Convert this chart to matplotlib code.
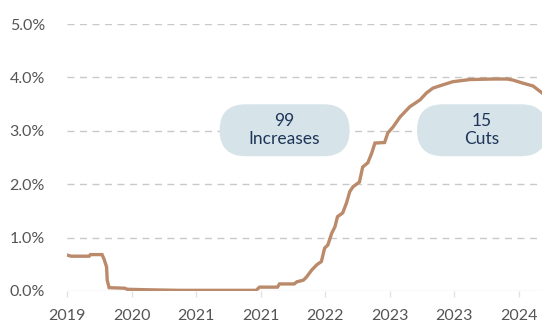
import numpy as np
import matplotlib
matplotlib.use('Agg')
import matplotlib.pyplot as plt
import matplotlib.transforms as mtransforms
from matplotlib.patches import FancyBboxPatch

# x positions in tick units (tick i sits at x=i)
period = [0.00, 0.06, 0.34, 0.36, 0.54, 0.57, 0.61, 0.62, 0.65, 0.89, 0.93, 1.27,
          1.74, 2.93, 2.98, 3.26, 3.29, 3.52, 3.56, 3.66, 3.71, 3.79, 3.87, 3.94,
          3.99, 4.04, 4.10, 4.15, 4.19, 4.27, 4.33, 4.38, 4.43, 4.53, 4.58, 4.66,
          4.72, 4.77, 4.92, 4.97, 5.05, 5.16, 5.31, 5.47, 5.57, 5.67, 5.82, 5.98,
          6.24, 6.60, 6.82, 6.91, 7.07, 7.22, 7.36, 7.45]
rate = [0.67, 0.65, 0.65, 0.68, 0.68, 0.60, 0.45, 0.20, 0.06, 0.05, 0.03, 0.02,
        0.01, 0.01, 0.07, 0.07, 0.13, 0.13, 0.17, 0.20, 0.26, 0.39, 0.49, 0.55,
        0.80, 0.86, 1.08, 1.20, 1.39, 1.46, 1.65, 1.86, 1.95, 2.04, 2.32, 2.40,
        2.58, 2.77, 2.78, 2.96, 3.07, 3.26, 3.45, 3.58, 3.71, 3.80, 3.86, 3.92,
        3.96, 3.97, 3.97, 3.95, 3.89, 3.84, 3.71, 3.60]

tick_labels = ['2019', '2020', '2021', '2021', '2022', '2023', '2023', '2024']
y_ticks = [0, 1, 2, 3, 4, 5]

# annotation pills: (x, y, count, label)
pills = [(3.37, 3.01, '99', 'Increases'),
         (6.43, 3.01, '15', 'Cuts')]

plt.rcParams['font.family'] = ['Lato', 'DejaVu Sans']

fig = plt.figure(figsize=(5.42, 3.25), dpi=100)
ax = fig.add_axes([0.124, 0.105, 0.876, 0.821])

for v in y_ticks[1:]:
    ax.axhline(v, color='#c9c9c9', lw=1.0, ls=(0, (5, 4)), zorder=0)
ax.axhline(0, color='#e2e2e2', lw=1.0, zorder=0)

ax.plot(period, rate, color='#ba8a6a', lw=2.4, solid_joinstyle='miter', zorder=3)

ax.set_xlim(0, 7.36)
ax.set_ylim(0, 5.0)
ax.set_yticks(y_ticks)
ax.set_yticklabels([f'{v:.1f}%' for v in y_ticks])
ax.set_xticks(range(len(tick_labels)))
ax.set_xticklabels(tick_labels)

for s in ax.spines.values():
    s.set_visible(False)
ax.tick_params(axis='y', length=0, pad=16, labelsize=11.5, labelcolor='#555555')
ax.tick_params(axis='x', length=4, width=1, color='#e2e2e2', pad=9,
               labelsize=11.5, labelcolor='#555555')

for px, py, num, lab in pills:
    trans = fig.dpi_scale_trans + mtransforms.ScaledTranslation(px, py, ax.transData)
    box = FancyBboxPatch((-0.65, -0.26), 1.30, 0.52,
                         boxstyle='round,pad=0,rounding_size=0.26',
                         transform=trans, facecolor='#d6e4ea', edgecolor='none',
                         zorder=4, clip_on=True)
    ax.add_patch(box)
    ax.text(px, py, f'{num}\n{lab}', ha='center', va='center', fontsize=12.5,
            color='#1e3558', linespacing=1.15, zorder=5)

fig.savefig('out.png', dpi=100)
